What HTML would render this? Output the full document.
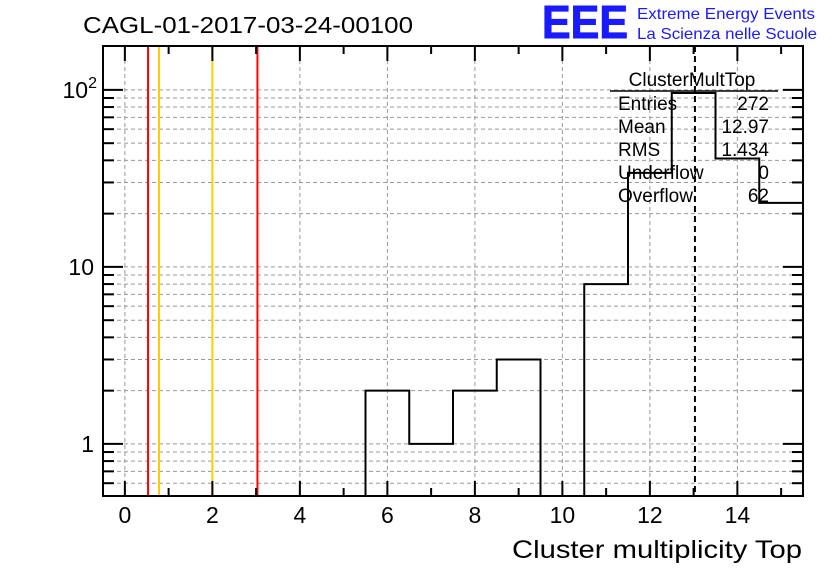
<!DOCTYPE html>
<html><head><meta charset="utf-8"><style>
body{margin:0;background:#fff;}
svg{display:block;font-family:"Liberation Sans",Arial,sans-serif;}
</style></head><body>
<svg id="c" width="836" height="572" viewBox="0 0 836 572" xmlns="http://www.w3.org/2000/svg">
<rect width="836" height="572" fill="#fff"/>
<text x="83" y="33" font-size="23" textLength="330" lengthAdjust="spacingAndGlyphs">CAGL-01-2017-03-24-00100</text>
<text x="542" y="38" font-size="46" font-weight="bold" fill="#1a1aff" stroke="#1a1aff" stroke-width="1" textLength="86" lengthAdjust="spacingAndGlyphs">EEE</text>
<text x="637" y="19" font-size="16" fill="#1a1aff" textLength="178" lengthAdjust="spacingAndGlyphs">Extreme Energy Events</text>
<text x="637" y="39" font-size="16" fill="#1a1aff" textLength="180" lengthAdjust="spacingAndGlyphs">La Scienza nelle Scuole</text>
<g id="grid"></g><g id="lines"></g><g id="hist"></g><g id="axes"></g>
<g font-size="19">
<text x="692" y="86" text-anchor="middle">ClusterMultTop</text>
<line x1="610" y1="91" x2="778" y2="91" stroke="#000" stroke-width="1.5"/>
<text x="618" y="110">Entries</text><text x="769" y="110" text-anchor="end">272</text>
<text x="618" y="133">Mean</text><text x="769" y="133" text-anchor="end">12.97</text>
<text x="618" y="156">RMS</text><text x="769" y="156" text-anchor="end">1.434</text>
<text x="618" y="179">Underflow</text><text x="769" y="179" text-anchor="end">0</text>
<text x="618" y="202">Overflow</text><text x="769" y="202" text-anchor="end">62</text>
</g>
<text x="802" y="558" text-anchor="end" font-size="25" textLength="290" lengthAdjust="spacingAndGlyphs">Cluster multiplicity Top</text>
</svg>
<script>
const binEdgesLow = [5.5, 6.5, 7.5, 8.5, 9.5, 10.5, 11.5, 12.5, 13.5, 14.5];
const binCounts = [2, 1, 2, 3, 0, 8, 34, 96, 41, 23];
const redLines = [0.53, 3.03];
const orangeLines = [0.78, 2.0];
const meanLine = [13.03];
const xTicks = [0, 2, 4, 6, 8, 10, 12, 14];
const yTickLabels = ["1", "10", "10²"];
const binWidth = 1;
const L=103,R=803,T=46,B=496,xmin=-0.5,xmax=15.5,ymin=0.508,ymax=177;
const X=v=>L+(v-xmin)/(xmax-xmin)*(R-L);
const Y=v=>B-(Math.log10(v)-Math.log10(ymin))/(Math.log10(ymax)-Math.log10(ymin))*(B-T);
const NS="http://www.w3.org/2000/svg";
function mk(p,t,a){const e=document.createElementNS(NS,t);for(const k in a)e.setAttribute(k,a[k]);document.getElementById(p).appendChild(e);return e;}
for(const t of xTicks){const g=mk('grid','line',{x1:X(t),x2:X(t),y1:T,y2:B,stroke:'#999','stroke-dasharray':'4,3','stroke-width':1});

}
for(let d=0.1;d<=100;d*=10)for(let m=1;m<10;m++){const v=d*m;if(v<ymin||v>ymax)continue;
const g=mk('grid','line',{x1:L,x2:R,y1:Y(v),y2:Y(v),stroke:'#999','stroke-dasharray':'4,3','stroke-width':1});


const t1=mk('axes','line',{x1:L,x2:L+(m==1?20:11),y1:Y(v),y2:Y(v),stroke:'#000','stroke-width':2});


const t2=mk('axes','line',{x1:R,x2:R-(m==1?20:11),y1:Y(v),y2:Y(v),stroke:'#000','stroke-width':2});

}
function vl(arr,col,dash,name){for(const v of arr){const e=mk('lines','line',{x1:X(v),x2:X(v),y1:T,y2:B,stroke:col,'stroke-width':2});if(dash)e.setAttribute('stroke-dasharray',dash);

}}
vl(redLines,'#f00',null,'red-threshold-line');vl(orangeLines,'#ffcc00',null,'orange-threshold-line');vl(meanLine,'#000','6,4','mean-line');
let d='',started=false;
for(let i=0;i<binCounts.length;i++){const x0=X(binEdgesLow[i]),x1=X(binEdgesLow[i]+binWidth);const c=binCounts[i];const y=c>0?Y(c):B;
if(!started){d+=`M${x0},${B}L${x0},${y}`;started=true;}else d+=`L${x0},${y}`;d+=`L${x1},${y}`;}
d+=`L${X(binEdgesLow[binEdgesLow.length-1]+binWidth)},${B}`;
const h=mk('hist','path',{d:d,fill:'none',stroke:'#000','stroke-width':2});


const f=mk('axes','rect',{x:L,y:T,width:R-L,height:B-T,fill:'none',stroke:'#000','stroke-width':2});


for(let v=0;v<=15;v++){const len=v%2==0?15:8;
const a=mk('axes','line',{x1:X(v),x2:X(v),y1:B,y2:B-len,stroke:'#000','stroke-width':2});


const b=mk('axes','line',{x1:X(v),x2:X(v),y1:T,y2:T+len,stroke:'#000','stroke-width':2});

}
for(const t of xTicks){const e=mk('axes','text',{x:X(t),y:B+27,'text-anchor':'middle','font-size':23});e.textContent=t;

}
yTickLabels.forEach((s,i)=>{const v=Math.pow(10,i);const e=mk('axes','text',{x:L-9,y:Y(v)+8,'text-anchor':'end','font-size':23});
if(i==2){e.textContent='10';const sp=document.createElementNS(NS,'tspan');sp.setAttribute('dy','-10');sp.setAttribute('font-size','16');sp.textContent='2';e.appendChild(sp);e.setAttribute('x',L-6);}else e.textContent=s;

});
</script>
</body></html>
